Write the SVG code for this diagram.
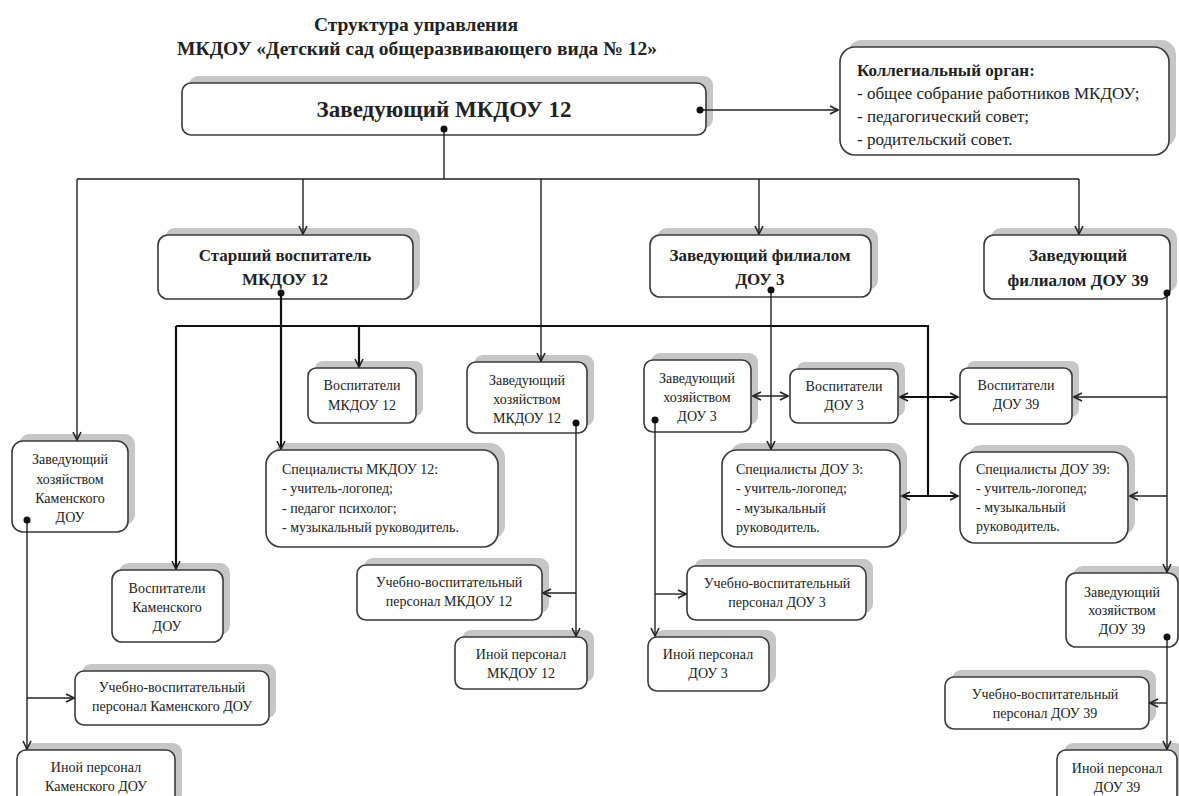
<svg xmlns="http://www.w3.org/2000/svg" width="1179" height="796" viewBox="0 0 1179 796">
<defs>
<style>
.sh{fill:#c6c6c6}
.bx{fill:#fff;stroke:#3a3a3a;stroke-width:1.6}
.t{font-family:"Liberation Serif","Times New Roman",serif;fill:#222}
.b{font-weight:bold}
.c{text-anchor:middle}
.s{font-size:14px}
.m{font-size:17px;font-weight:bold;text-anchor:middle}
.ln{fill:none;stroke:#222;stroke-width:1.4}
.lt{fill:none;stroke:#111;stroke-width:2.2}
.dot{fill:#111}
</style>
<marker id="a" viewBox="0 0 10 10" refX="9" refY="5" markerWidth="10" markerHeight="10" markerUnits="userSpaceOnUse" orient="auto-start-reverse">
<path d="M1,1 L9,5 L1,9" fill="none" stroke="#222" stroke-width="1.6"/>
</marker>
</defs>
<rect width="1179" height="796" fill="#fff"/>

<g id="title">
<text class="t b c" x="416" y="31" font-size="19.5">Структура управления</text>
<text class="t b c" x="417" y="55" font-size="19.5">МКДОУ «Детский сад общеразвивающего вида № 12»</text>
</g>

<g id="n-main">
<rect class="sh" x="189" y="76" width="524" height="52" rx="9"/>
<rect class="bx" x="182" y="83" width="524" height="52" rx="9"/>
<text class="t b c" x="444" y="117" font-size="23">Заведующий МКДОУ 12</text>
</g>

<g id="n-coll">
<rect class="sh" x="847" y="40" width="329" height="108" rx="15"/>
<rect class="bx" x="840" y="47" width="329" height="108" rx="15"/>
<text class="t b" x="857" y="76" font-size="17">Коллегиальный орган:</text>
<text class="t" x="857" y="99" font-size="17">- общее собрание работников МКДОУ;</text>
<text class="t" x="857" y="122" font-size="17">- педагогический совет;</text>
<text class="t" x="857" y="145" font-size="17">- родительский совет.</text>
</g>

<g id="n-star">
<rect class="sh" x="165" y="228" width="255" height="64" rx="10"/>
<rect class="bx" x="158" y="235" width="255" height="64" rx="10"/>
<text class="t m" x="285" y="261">Старший воспитатель</text>
<text class="t m" x="285" y="285">МКДОУ 12</text>
</g>

<g id="n-fil3">
<rect class="sh" x="657" y="228" width="221" height="62" rx="10"/>
<rect class="bx" x="650" y="235" width="221" height="62" rx="10"/>
<text class="t m" x="760" y="261">Заведующий филиалом</text>
<text class="t m" x="760" y="285">ДОУ 3</text>
</g>

<g id="n-fil39">
<rect class="sh" x="991" y="228" width="186" height="64" rx="10"/>
<rect class="bx" x="984" y="235" width="186" height="64" rx="10"/>
<text class="t m" x="1078" y="261">Заведующий</text>
<text class="t m" x="1078" y="286">филиалом ДОУ 39</text>
</g>

<g id="n-vosp12">
<rect class="sh" x="315" y="361" width="108" height="55" rx="8"/>
<rect class="bx" x="308" y="368" width="108" height="55" rx="8"/>
<text class="t c s" x="362" y="390">Воспитатели</text>
<text class="t c s" x="362" y="410">МКДОУ 12</text>
</g>

<g id="n-zh12">
<rect class="sh" x="474" y="355" width="120" height="71" rx="9"/>
<rect class="bx" x="467" y="362" width="120" height="71" rx="9"/>
<text class="t c s" x="527" y="385">Заведующий</text>
<text class="t c s" x="527" y="404">хозяйством</text>
<text class="t c s" x="527" y="423">МКДОУ 12</text>
</g>

<g id="n-zh3">
<rect class="sh" x="651" y="353" width="107" height="72" rx="9"/>
<rect class="bx" x="644" y="360" width="107" height="72" rx="9"/>
<text class="t c s" x="697" y="383">Заведующий</text>
<text class="t c s" x="697" y="402">хозяйством</text>
<text class="t c s" x="697" y="421">ДОУ 3</text>
</g>

<g id="n-vosp3">
<rect class="sh" x="797" y="362" width="108" height="54" rx="8"/>
<rect class="bx" x="790" y="369" width="108" height="54" rx="8"/>
<text class="t c s" x="844" y="391">Воспитатели</text>
<text class="t c s" x="844" y="410">ДОУ 3</text>
</g>

<g id="n-vosp39">
<rect class="sh" x="967" y="361" width="112" height="56" rx="8"/>
<rect class="bx" x="960" y="368" width="112" height="56" rx="8"/>
<text class="t c s" x="1016" y="390">Воспитатели</text>
<text class="t c s" x="1016" y="409">ДОУ 39</text>
</g>

<g id="n-zhkam">
<rect class="sh" x="19" y="434" width="116" height="91" rx="11"/>
<rect class="bx" x="12" y="441" width="116" height="91" rx="11"/>
<text class="t c s" x="70" y="464">Заведующий</text>
<text class="t c s" x="70" y="484">хозяйством</text>
<text class="t c s" x="70" y="503">Каменского</text>
<text class="t c s" x="70" y="522">ДОУ</text>
</g>

<g id="n-spec12">
<rect class="sh" x="273" y="443" width="232" height="97" rx="15"/>
<rect class="bx" x="266" y="450" width="232" height="97" rx="15"/>
<text class="t s" x="282" y="474">Специалисты МКДОУ 12:</text>
<text class="t s" x="282" y="493">- учитель-логопед;</text>
<text class="t s" x="282" y="513">- педагог психолог;</text>
<text class="t s" x="282" y="532">- музыкальный руководитель.</text>
</g>

<g id="n-spec3">
<rect class="sh" x="729" y="443" width="178" height="97" rx="15"/>
<rect class="bx" x="722" y="450" width="178" height="97" rx="15"/>
<text class="t s" x="736" y="474">Специалисты ДОУ 3:</text>
<text class="t s" x="736" y="493">- учитель-логопед;</text>
<text class="t s" x="736" y="513">- музыкальный</text>
<text class="t s" x="736" y="532">руководитель.</text>
</g>

<g id="n-spec39">
<rect class="sh" x="967" y="445" width="168" height="91" rx="15"/>
<rect class="bx" x="960" y="452" width="168" height="91" rx="15"/>
<text class="t s" x="976" y="474">Специалисты ДОУ 39:</text>
<text class="t s" x="976" y="493">- учитель-логопед;</text>
<text class="t s" x="976" y="512">- музыкальный</text>
<text class="t s" x="976" y="531">руководитель.</text>
</g>

<g id="n-vospkam">
<rect class="sh" x="119" y="563" width="111" height="72" rx="10"/>
<rect class="bx" x="112" y="570" width="111" height="72" rx="10"/>
<text class="t c s" x="167" y="593">Воспитатели</text>
<text class="t c s" x="167" y="612">Каменского</text>
<text class="t c s" x="167" y="631">ДОУ</text>
</g>

<g id="n-uv12">
<rect class="sh" x="364" y="558" width="185" height="55" rx="9"/>
<rect class="bx" x="357" y="565" width="185" height="55" rx="9"/>
<text class="t c s" x="449" y="587">Учебно-воспитательный</text>
<text class="t c s" x="449" y="606">персонал МКДОУ 12</text>
</g>

<g id="n-in12">
<rect class="sh" x="462" y="630" width="132" height="52" rx="9"/>
<rect class="bx" x="455" y="637" width="132" height="52" rx="9"/>
<text class="t c s" x="521" y="659">Иной персонал</text>
<text class="t c s" x="521" y="678">МКДОУ 12</text>
</g>

<g id="n-uv3">
<rect class="sh" x="694" y="559" width="179" height="54" rx="9"/>
<rect class="bx" x="687" y="566" width="179" height="54" rx="9"/>
<text class="t c s" x="777" y="588">Учебно-воспитательный</text>
<text class="t c s" x="777" y="607">персонал ДОУ 3</text>
</g>

<g id="n-in3">
<rect class="sh" x="655" y="630" width="121" height="54" rx="9"/>
<rect class="bx" x="648" y="637" width="121" height="54" rx="9"/>
<text class="t c s" x="708" y="659">Иной персонал</text>
<text class="t c s" x="708" y="678">ДОУ 3</text>
</g>

<g id="n-zh39">
<rect class="sh" x="1073" y="566" width="112" height="74" rx="10"/>
<rect class="bx" x="1066" y="573" width="112" height="74" rx="10"/>
<text class="t c s" x="1122" y="597">Заведующий</text>
<text class="t c s" x="1122" y="615">хозяйством</text>
<text class="t c s" x="1122" y="634">ДОУ 39</text>
</g>

<g id="n-uv39">
<rect class="sh" x="952" y="670" width="204" height="52" rx="9"/>
<rect class="bx" x="945" y="677" width="204" height="52" rx="9"/>
<text class="t c s" x="1045" y="699">Учебно-воспитательный</text>
<text class="t c s" x="1045" y="718">персонал ДОУ 39</text>
</g>

<g id="n-in39">
<rect class="sh" x="1064" y="743" width="120" height="60" rx="9"/>
<rect class="bx" x="1057" y="750" width="120" height="60" rx="9"/>
<text class="t c s" x="1117" y="773">Иной персонал</text>
<text class="t c s" x="1117" y="792">ДОУ 39</text>
</g>

<g id="n-uvkam">
<rect class="sh" x="82" y="664" width="194" height="54" rx="9"/>
<rect class="bx" x="75" y="671" width="194" height="54" rx="9"/>
<text class="t c s" x="172" y="692">Учебно-воспитательный</text>
<text class="t c s" x="172" y="711">персонал Каменского ДОУ</text>
</g>

<g id="n-inkam">
<rect class="sh" x="24" y="743" width="158" height="60" rx="9"/>
<rect class="bx" x="17" y="750" width="158" height="60" rx="9"/>
<text class="t c s" x="96" y="772">Иной персонал</text>
<text class="t c s" x="96" y="791">Каменского ДОУ</text>
</g>

<g id="connectors">
<path class="ln" d="M444,129 V179 M77,179 H1079"/>
<path class="ln" d="M77,179 V440" marker-end="url(#a)"/>
<path class="ln" d="M303,179 V234" marker-end="url(#a)"/>
<path class="ln" d="M541,179 V361" marker-end="url(#a)"/>
<path class="ln" d="M759,179 V234" marker-end="url(#a)"/>
<path class="ln" d="M1079,179 V234" marker-end="url(#a)"/>
<path class="ln" d="M700,110 H838" marker-end="url(#a)"/>

<path class="lt" d="M281,293 V449" marker-end="url(#a)"/>
<path class="lt" d="M176,326 H928 V496"/>
<path class="lt" d="M176,326 V569" marker-end="url(#a)"/>
<path class="lt" d="M359,326 V367" marker-end="url(#a)"/>
<path class="lt" d="M902,496 H958" marker-start="url(#a)" marker-end="url(#a)"/>
<path class="lt" d="M900,397 H958" marker-start="url(#a)" marker-end="url(#a)"/>

<path class="ln" d="M771,290 V449" marker-end="url(#a)"/>
<path class="ln" d="M753,396 H788" marker-start="url(#a)" marker-end="url(#a)"/>

<path class="ln" d="M1167,293 V572" marker-end="url(#a)"/>
<path class="ln" d="M1167,397 H1074" marker-end="url(#a)"/>
<path class="ln" d="M1167,496 H1130" marker-end="url(#a)"/>

<path class="ln" d="M576,423 V636" marker-end="url(#a)"/>
<path class="ln" d="M576,593 H543" marker-end="url(#a)"/>

<path class="ln" d="M655,420 V636" marker-end="url(#a)"/>
<path class="ln" d="M655,594 H686" marker-end="url(#a)"/>

<path class="ln" d="M27,520 V749" marker-end="url(#a)"/>
<path class="ln" d="M27,698 H74" marker-end="url(#a)"/>

<path class="ln" d="M1167,637 V749" marker-end="url(#a)"/>
<path class="ln" d="M1167,703 H1150" marker-end="url(#a)"/>

<circle class="dot" cx="444" cy="129" r="3.5"/>
<circle class="dot" cx="700" cy="110" r="3.5"/>
<circle class="dot" cx="281" cy="293" r="3.5"/>
<circle class="dot" cx="771" cy="290" r="3.5"/>
<circle class="dot" cx="1167" cy="293" r="3.5"/>
<circle class="dot" cx="576" cy="423" r="3.5"/>
<circle class="dot" cx="655" cy="420" r="3.5"/>
<circle class="dot" cx="27" cy="520" r="3.5"/>
<circle class="dot" cx="1167" cy="637" r="3.5"/>
</g>
</svg>
